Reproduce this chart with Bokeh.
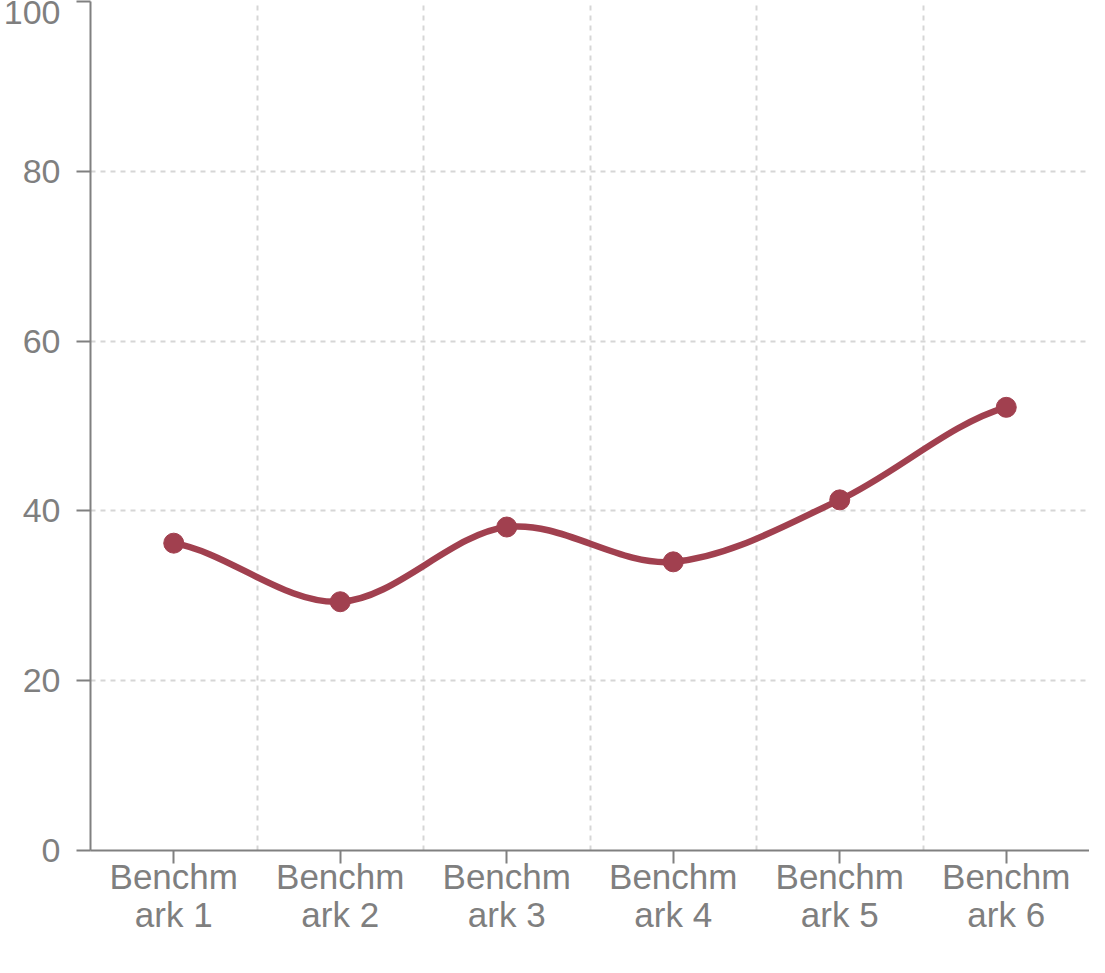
from bokeh.plotting import figure
from bokeh.models import Range1d, FixedTicker
from bokeh.embed import file_html
from bokeh.resources import INLINE

categories = ["Benchmark 1", "Benchmark 2", "Benchmark 3", "Benchmark 4", "Benchmark 5", "Benchmark 6"]
tick_labels = ["Benchm\nark 1", "Benchm\nark 2", "Benchm\nark 3", "Benchm\nark 4", "Benchm\nark 5", "Benchm\nark 6"]
values = [36.2, 29.3, 38.1, 34.0, 41.3, 52.2]
y_ticks = [0, 20, 40, 60, 80, 100]

LINE_COLOR = "#a1404f"
GRAY = "#808080"
TEXT_GRAY = "#7f7f7f"
FONT = "Liberation Sans"

W, H = 1089, 957
BL, BR, BT, BB = 87, 0, 1, 107

p = figure(width=W, height=H, output_backend="svg", toolbar_location=None,
           x_range=Range1d(0, len(categories)), y_range=Range1d(0, 100),
           min_border_left=BL, min_border_right=BR, min_border_top=BT, min_border_bottom=BB)
p.outline_line_color = None
p.background_fill_color = "white"
p.border_fill_color = "white"

xs = [i + 0.5 for i in range(len(categories))]

# smooth curve: cardinal (Catmull-Rom, uniform) spline through the points
n = len(values)
tang = []
for i in range(n):
    a = values[max(i - 1, 0)]
    b = values[min(i + 1, n - 1)]
    tang.append((b - a) / 2.0)
x0s, y0s, x1s, y1s, cx0s, cy0s, cx1s, cy1s = [], [], [], [], [], [], [], []
for i in range(n - 1):
    dx = xs[i + 1] - xs[i]
    x0s.append(xs[i]); y0s.append(values[i])
    x1s.append(xs[i + 1]); y1s.append(values[i + 1])
    cx0s.append(xs[i] + dx / 3.0); cy0s.append(values[i] + tang[i] / 3.0)
    cx1s.append(xs[i + 1] - dx / 3.0); cy1s.append(values[i + 1] - tang[i + 1] / 3.0)

p.bezier(x0=x0s, y0=y0s, x1=x1s, y1=y1s, cx0=cx0s, cy0=cy0s, cx1=cx1s, cy1=cy1s,
         line_color=LINE_COLOR, line_width=6.5, line_cap="round")
p.scatter(xs, values, size=20, marker="circle", fill_color=LINE_COLOR, line_color=LINE_COLOR)

# axes
p.xaxis.ticker = FixedTicker(ticks=xs)
p.xaxis.major_label_overrides = {x: lab for x, lab in zip(xs, tick_labels)}
p.yaxis.ticker = FixedTicker(ticks=y_ticks)
for ax in (p.xaxis[0], p.yaxis[0]):
    ax.axis_line_color = GRAY
    ax.axis_line_width = 2
    ax.major_tick_line_color = GRAY
    ax.major_tick_line_width = 2
    ax.minor_tick_line_color = None
    ax.major_tick_in = 0
    ax.major_label_text_color = TEXT_GRAY
    ax.major_label_text_font = FONT
p.xaxis.major_label_text_font_size = "35px"
p.xaxis.major_label_text_line_height = 0.98
p.yaxis.major_label_text_font_size = "34px"
p.xaxis.major_tick_out = 13
p.yaxis.major_tick_out = 14
p.xaxis.major_label_standoff = -7
p.yaxis.major_label_standoff = 16

# grid
p.xgrid.ticker = FixedTicker(ticks=list(range(1, len(categories) + 1)))
p.ygrid.ticker = FixedTicker(ticks=y_ticks[1:])
for g in (p.xgrid[0], p.ygrid[0]):
    g.grid_line_color = "#d6d6d6"
    g.grid_line_width = 2
    g.grid_line_dash = "5 5"

open("out.html", "w").write(file_html(p, INLINE))
